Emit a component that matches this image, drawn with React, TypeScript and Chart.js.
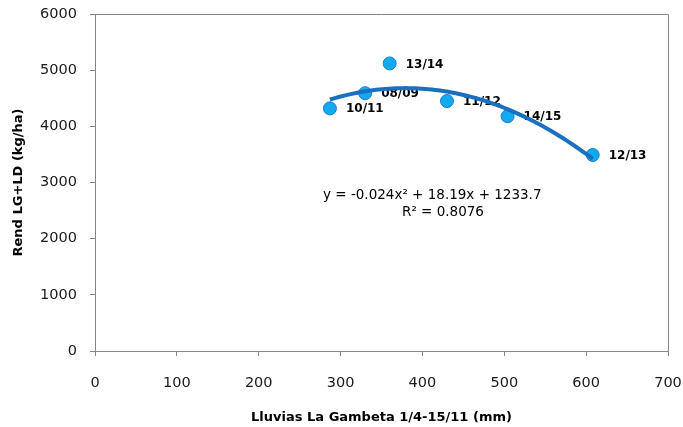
import React, { useEffect, useRef } from "react";
import { Chart, registerables } from "chart.js";

Chart.register(...registerables);

// Data
const seasons = ["08/09", "10/11", "11/12", "12/13", "13/14", "14/15"];
const rainfallMm = [330, 287, 430, 608, 360, 504];
const yieldKgHa = [4590, 4320, 4450, 3490, 5120, 4180];

// Quadratic trendline coefficients printed on the chart (a x² + b x + c)
const trendCoefs = [-0.024, 18.19, 1233.7];
const equationText = "y = -0.024x² + 18.19x + 1233.7";
const r2Text = "R² = 0.8076";

const xTicks = [0, 100, 200, 300, 400, 500, 600, 700];
const yTicks = [0, 1000, 2000, 3000, 4000, 5000, 6000];

const xTitle = "Lluvias La Gambeta 1/4-15/11 (mm)";
const yTitle = "Rend LG+LD (kg/ha)";

const FONT = "'DejaVu Sans', sans-serif";
const AXIS_COLOR = "#868686";

function trendPoints() {
  const minX = Math.min(...rainfallMm);
  const maxX = Math.max(...rainfallMm);
  const pts: { x: number; y: number }[] = [];
  const n = 80;
  for (let i = 0; i <= n; i++) {
    const x = minX + ((maxX - minX) * i) / n;
    const y = trendCoefs[0] * x * x + trendCoefs[1] * x + trendCoefs[2];
    pts.push({ x, y });
  }
  return pts;
}

const labelsPlugin = {
  id: "pointLabels",
  afterDatasetDraw(chart: any, args: any) {
    if (args.index !== 1) return;
    const ctx = chart.ctx;
    const meta = chart.getDatasetMeta(1);
    ctx.save();
    ctx.font = `bold 12px ${FONT}`;
    ctx.fillStyle = "#000";
    ctx.textAlign = "left";
    ctx.textBaseline = "middle";
    meta.data.forEach((pt: any, i: number) => {
      ctx.fillText(seasons[i], pt.x + 16, pt.y + 1);
    });
    ctx.restore();
  },
  afterDraw(chart: any) {
    const { ctx, chartArea } = chart;
    ctx.save();
    // box top/right border
    ctx.strokeStyle = AXIS_COLOR;
    ctx.lineWidth = 1;
    ctx.beginPath();
    ctx.moveTo(chartArea.left, Math.round(chartArea.top) + 0.5);
    ctx.lineTo(Math.round(chartArea.right) + 0.5, Math.round(chartArea.top) + 0.5);
    ctx.lineTo(Math.round(chartArea.right) + 0.5, chartArea.bottom);
    ctx.stroke();
    // equation
    ctx.font = `13.5px ${FONT}`;
    ctx.fillStyle = "#000";
    ctx.textAlign = "left";
    ctx.textBaseline = "middle";
    ctx.fillText(equationText, chartArea.left + 228, chartArea.top + 181);
    ctx.fillText(r2Text, chartArea.left + 307, chartArea.top + 198);
    ctx.restore();
  },
};

export default function App() {
  const ref = useRef<HTMLCanvasElement>(null);

  useEffect(() => {
    document.body.style.margin = "0";
    const canvas = ref.current;
    if (!canvas) return;
    const chart = new Chart(canvas, {
      type: "scatter",
      data: {
        datasets: [
          {
            type: "line",
            label: "trend",
            data: trendPoints(),
            borderColor: "#1A6FC0",
            borderWidth: 4,
            pointRadius: 0,
            fill: false,
            tension: 0,
            order: 0,
          } as any,
          {
            label: "Rend",
            data: rainfallMm.map((x, i) => ({ x, y: yieldKgHa[i] })),
            backgroundColor: "#12A9EE",
            borderColor: "#1E7CCB",
            borderWidth: 1,
            pointRadius: 6.5,
            order: 1,
          },
        ],
      },
      options: {
        animation: false,
        responsive: false,
        maintainAspectRatio: false,
        layout: { padding: { top: 14, right: 15, left: 0, bottom: 0 } },
        plugins: {
          legend: { display: false },
          tooltip: { enabled: false },
        },
        scales: {
          x: {
            type: "linear",
            min: 0,
            max: 700,
            afterBuildTicks: (s: any) => {
              s.ticks = xTicks.map((v) => ({ value: v }));
            },
            afterFit: (s: any) => {
              s.height = 76;
              s.paddingLeft = 0;
              s.paddingRight = 0;
            },
            grid: {
              drawOnChartArea: false,
              drawTicks: true,
              tickLength: 5,
              color: AXIS_COLOR,
            },
            border: { color: AXIS_COLOR, width: 1 },
            ticks: {
              padding: 19,
              color: "#1a1a1a",
              font: { family: FONT, size: 14.5 },
              maxRotation: 0,
              callback: (v: any) => String(v),
            },
            title: {
              display: true,
              text: xTitle,
              color: "#000",
              font: { family: FONT, size: 13, weight: "bold" },
              padding: { top: 0, bottom: 2 },
            },
          },
          y: {
            type: "linear",
            min: 0,
            max: 6000,
            afterBuildTicks: (s: any) => {
              s.ticks = yTicks.map((v) => ({ value: v }));
            },
            afterFit: (s: any) => {
              s.width = 95;
              s.paddingTop = 0;
              s.paddingBottom = 0;
            },
            grid: {
              drawOnChartArea: false,
              drawTicks: true,
              tickLength: 5,
              color: AXIS_COLOR,
            },
            border: { color: AXIS_COLOR, width: 1 },
            ticks: {
              padding: 13,
              color: "#1a1a1a",
              font: { family: FONT, size: 14.5 },
              callback: (v: any) => String(v),
            },
            title: {
              display: true,
              text: yTitle,
              color: "#000",
              font: { family: FONT, size: 13, weight: "bold" },
              padding: { top: 11, bottom: 0 },
            },
          },
        },
      },
      plugins: [labelsPlugin],
    });
    return () => chart.destroy();
  }, []);

  return (
    <div style={{ position: "fixed", left: 0, top: 0, width: 683, height: 427, background: "#fff" }}>
      <canvas ref={ref} width={683} height={427} style={{ width: 683, height: 427, display: "block" }} />
    </div>
  );
}
